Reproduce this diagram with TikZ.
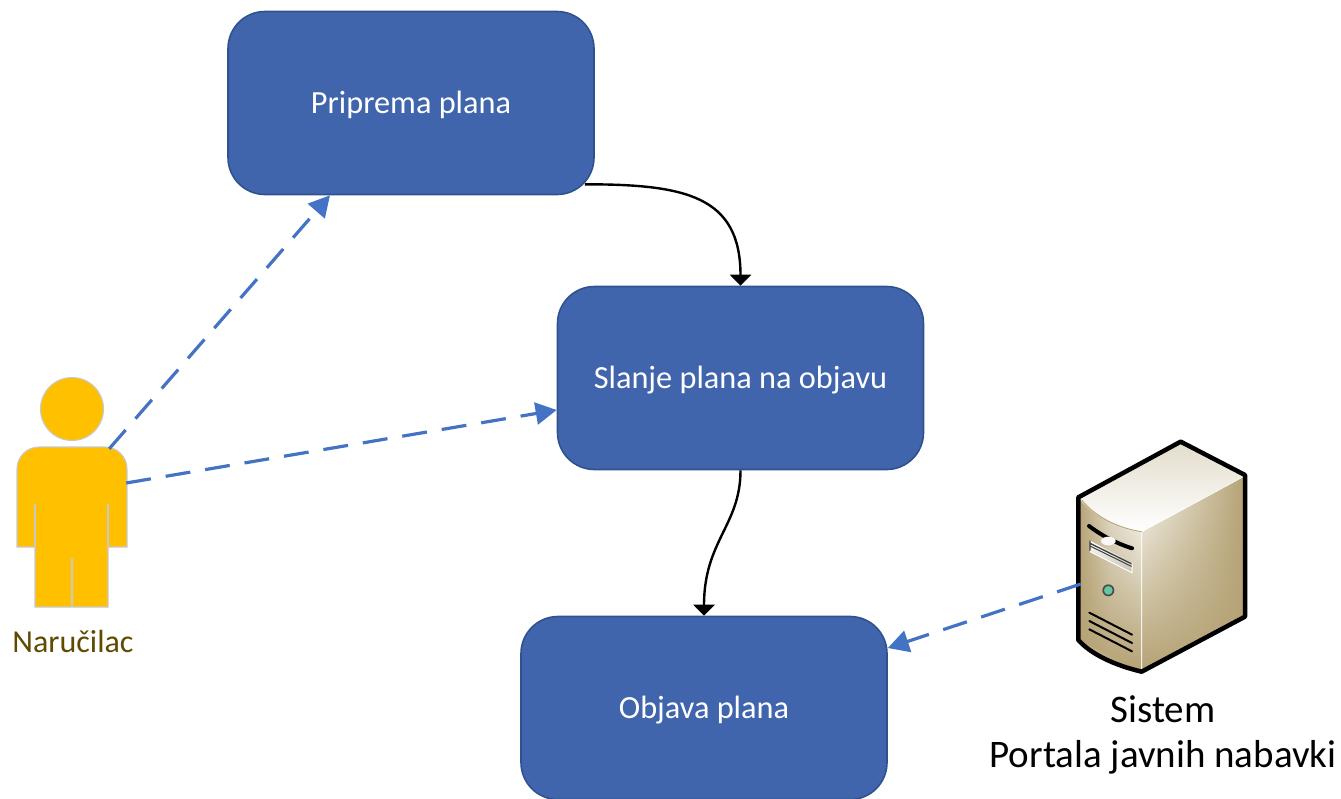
\documentclass[tikz,border=0pt]{standalone}
\usepackage{fontspec}
\setmainfont{Carlito}
\usetikzlibrary{arrows.meta,calc,fadings}
\definecolor{boxfill}{HTML}{4065AD}
\definecolor{boxline}{HTML}{2F528F}
\definecolor{linkblue}{HTML}{4472C4}
\definecolor{personfill}{HTML}{FFC000}
\definecolor{personline}{HTML}{C9C9C9}
\definecolor{labelbrown}{HTML}{5F4A00}
\definecolor{tanA}{HTML}{B5A274}
\definecolor{tanB}{HTML}{E3DCCB}
\definecolor{tanC}{HTML}{FAF9F5}
\tikzset{
  procbox/.style={draw=boxline,line width=1.6pt,fill=boxfill,rounded corners=37pt,minimum width=366pt,minimum height=183pt,text=white,font=\fontsize{32.3}{38}\selectfont,inner sep=0pt,text height=21pt,text depth=0pt},
  flow/.style={black,line width=2.4pt,-{Triangle[length=11pt,width=21pt]}},
  usagelink/.style={linkblue,line width=3.2pt,dash pattern=on 25pt off 15pt,-{Triangle[length=21pt,width=22pt]}},
  lbl/.style={inner sep=0pt,font=\fontsize{39}{46}\selectfont},
  personpart/.style={fill=personfill,draw=personline,line width=1.1pt},
  personseam/.style={draw=personline,line width=1.1pt},
  slot/.style={black,line width=2pt,line cap=round}
}
\begin{document}
\begin{tikzpicture}[x=1pt,y=-1pt]
\useasboundingbox (0,0) rectangle (1341,798);
\clip (0,0) rectangle (1341,798);
% boxes
\node[procbox] (p1) at (411,103) {Priprema plana};
\node[procbox] (p2) at (740.5,378) {Slanje plana na objavu};
\node[procbox] (p3) at (704,708) {Objava plana};
% person
\node[inner sep=0pt,minimum width=110pt,minimum height=229pt] (person) at (72,493.5) {};
\filldraw[personpart] (72,409) circle (31.5);
\filldraw[personpart] (17,547) -- (17,469) arc[start angle=180,end angle=270,radius=22] -- (105,447) arc[start angle=270,end angle=360,radius=22] -- (127,547) -- (108,547) -- (108,607) -- (35,607) -- (35,547) -- cycle;
\draw[personseam] (35,504) -- (35,547) (108,504) -- (108,547) (72,558) -- (72,607);
\node[lbl,text=labelbrown,font=\fontsize{32}{38}\selectfont] (naru) at (73,641) {Naručilac};
% server
\begin{scope}[shift={(1040,420)},x=0.33333pt,y=-0.33333pt]
  \path[left color=tanA,right color=tanC,middle color=tanB] (115,232) -- (305,335) -- (305,755) -- (115,660) -- cycle;
  \path[fill=tanA,path fading=north] (115,232) -- (305,335) -- (305,755) .. controls (220,735) and (150,700) .. (115,660) -- cycle;
  \path[left color=tanC,middle color=tanB,right color=tanA] (305,335) -- (615,165) -- (615,590) -- (305,755) -- cycle;
  \path[fill=tanA,path fading=north] (305,335) -- (615,165) -- (615,590) -- (305,755) -- cycle;
  \path[top color=tanB,bottom color=white] (422,62) -- (615,165) -- (305,335) .. controls (220,320) and (150,280) .. (115,232) -- cycle;
  \draw[white,line width=0.8pt] (305,335) -- (610,170) (305,335) -- (305,750);
  \draw[tanA,line width=0.8pt] (125,240) .. controls (170,295) and (240,325) .. (305,335);
  \draw[black,line width=4.5pt,line join=round,fill=none] (422,65) -- (615,165) -- (615,590) -- (305,755) .. controls (220,735) and (150,700) .. (115,660) -- (115,232) -- cycle;
  % front details
  \draw[black,line width=4pt,line cap=round] (147,318) .. controls (190,350) and (230,370) .. (276,385);
  \fill[tanC] (205,363) ellipse (22 and 13);
  \path[top color=white,bottom color=tanB!70!gray] (150,362) -- (276,428) -- (276,458) -- (150,395) -- cycle;
  \draw[black!75,line width=1.3pt] (150,362) -- (150,392) (150,370) -- (276,432);
  \draw[black!75,line width=1pt] (150,378) -- (276,440);
  \draw[white,line width=1pt] (150,395) -- (276,458) -- (276,428);
  \fill[black!70] (205,511) circle (18);
  \fill[green!25!teal!60!white] (205,511) circle (13);
  \draw[slot] (148,578) -- (276,644);
  \draw[slot] (148,603) -- (276,669);
  \draw[slot] (148,628) -- (276,694);
\end{scope}
\node[inner sep=0pt,minimum width=167pt,minimum height=231pt] (server) at (1161.5,556.5) {};
\node[lbl] (s1) at (1163,709) {Sistem};
\node[lbl] (s2) at (1163,757) {Portala javnih nabavki};
% connectors
\draw[flow] ($(p1.south east)+(-10,-11)$) .. controls ($(p1.south east)+(90,-11)$) and ($(p2.north)+(0,-90)$) .. (p2.north);
\draw[flow] (p2.south) .. controls ($(p2.south)+(0,55)$) and ($(p3.north)+(0,-75)$) .. (p3.north);
\draw[usagelink] ($(person.north east)+(-18,70)$) -- ($(p1.south)+(-81,0)$);
\draw[usagelink] ($(person.east)+(-1,-10.5)$) -- ($(p2.west)+(0,32)$);
\draw[usagelink] ($(server.west)+(3,27.5)$) -- ($(p3.east)+(0,-60)$);
\end{tikzpicture}
\end{document}
